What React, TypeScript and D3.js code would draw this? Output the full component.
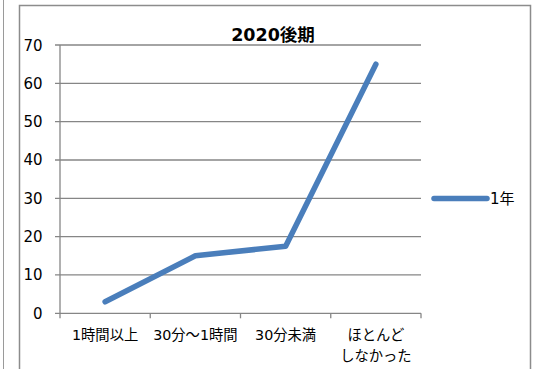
import React from "react";
import * as d3 from "d3";

const categories = ["1時間以上", "30分～1時間", "30分未満", "ほとんど\nしなかった"];
const values = [3, 15, 17.5, 65];
const yTicks = [0, 10, 20, 30, 40, 50, 60, 70];
const seriesName = "1年";
const title = "2020後期";

const W = 540;
const H = 369;
const FONT = "'DejaVu Sans', 'Noto Sans CJK JP', sans-serif";

export default function App() {
  const left = 60, right = 421, top = 45, bottom = 313.3;
  const x = d3.scaleBand<string>().domain(categories).range([left, right]).padding(0);
  const y = d3.scaleLinear().domain([0, 70]).range([bottom, top]);
  const line = d3
    .line<number>()
    .x((_, i) => (x(categories[i]) as number) + x.bandwidth() / 2)
    .y((d) => y(d));
  const gridColor = "#868686";
  const blue = "#4a7ebb";

  return (
    <svg
      width={W}
      height={H}
      style={{ position: "absolute", left: 0, top: 0, background: "#fff" }}
    >
      <rect x={0} y={0} width={W} height={H} fill="#fff" />
      {/* outer borders */}
      <line x1={3.5} y1={0} x2={3.5} y2={H} stroke="#9a9a9a" strokeWidth={1} />
      <path d={`M19.5,${H} V5.5 H530.5 V${H}`} fill="none" stroke="#8c8c8c" strokeWidth={1.5} />

      {/* title */}
      <text x={273} y={41} textAnchor="middle" fontFamily={FONT} fontWeight="bold" fontSize={17.5} fill="#000">
        {title}
      </text>

      {/* gridlines */}
      {yTicks.map((t) => (
        <g key={t}>
          <line x1={left - 5} x2={right} y1={y(t)} y2={y(t)} stroke={gridColor} strokeWidth={1.3} />
          <text x={42.5} y={y(t) + 5.5} textAnchor="end" fontFamily={FONT} fontSize={15} fill="#000">
            {t}
          </text>
        </g>
      ))}
      {/* y axis */}
      <line x1={left} x2={left} y1={top} y2={bottom + 5} stroke={gridColor} strokeWidth={1.3} />
      {/* x ticks */}
      {categories.map((c) => (
        <line key={c} x1={(x(c) as number) + x.bandwidth()} x2={(x(c) as number) + x.bandwidth()} y1={bottom} y2={bottom + 5} stroke={gridColor} strokeWidth={1.3} />
      ))}
      {/* x labels */}
      {categories.map((c) => {
        const lines = c.split("\n");
        const cx = (x(c) as number) + x.bandwidth() / 2;
        return (
          <text key={c} x={cx} y={339.5} textAnchor="middle" fontFamily={FONT} fontSize={14.3} fill="#000">
            {lines.map((l, i) => (
              <tspan key={i} x={cx} dy={i === 0 ? 0 : 21}>
                {l}
              </tspan>
            ))}
          </text>
        );
      })}

      {/* series */}
      <path d={line(values) || ""} fill="none" stroke={blue} strokeWidth={5.5} strokeLinecap="round" strokeLinejoin="round" />

      {/* legend */}
      <line x1={434} x2={487} y1={198.5} y2={198.5} stroke={blue} strokeWidth={5.5} strokeLinecap="round" />
      <text x={490} y={204} fontFamily={FONT} fontSize={15} fill="#000">
        {seriesName}
      </text>
    </svg>
  );
}
